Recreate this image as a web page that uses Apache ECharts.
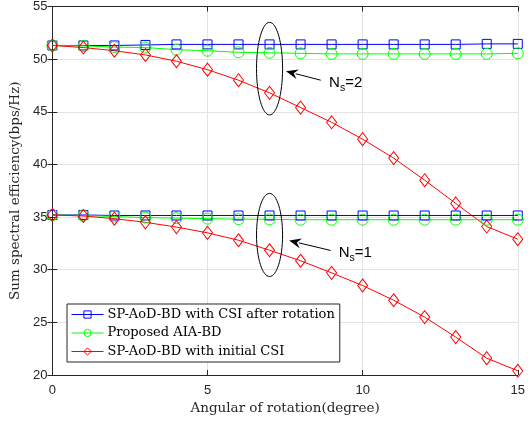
<!DOCTYPE html>
<html><head><meta charset="utf-8">
<script src="https://cdn.jsdelivr.net/npm/echarts@6/dist/echarts.min.js"></script>
<style>html,body{margin:0;padding:0;background:#fff}#c{width:528px;height:423px}</style>
</head><body><div id="c"></div>
<script>
const angles = [0,1,2,3,4,5,6,7,8,9,10,11,12,13,14,15];
const blueNs2  = [51.3,51.3,51.3,51.35,51.4,51.4,51.4,51.4,51.4,51.4,51.4,51.4,51.4,51.4,51.45,51.45];
const greenNs2 = [51.3,51.25,51.15,51.1,50.9,50.8,50.65,50.6,50.55,50.5,50.5,50.5,50.5,50.5,50.5,50.55];
const redNs2   = [51.3,51.1,50.8,50.4,49.8,49.0,48.0,46.8,45.4,44.0,42.4,40.6,38.5,36.3,34.1,32.9];
const blueNs1  = [35.2,35.2,35.15,35.15,35.15,35.15,35.15,35.15,35.15,35.15,35.15,35.15,35.15,35.15,35.15,35.15];
const greenNs1 = [35.2,35.15,35.05,34.95,34.9,34.85,34.8,34.78,34.75,34.75,34.75,34.75,34.75,34.75,34.75,34.75];
const redNs1   = [35.2,35.1,34.85,34.5,34.05,33.5,32.8,31.85,30.85,29.7,28.5,27.1,25.5,23.6,21.6,20.4];
const seriesNames = ['SP-AoD-BD with CSI after rotation','Proposed AIA-BD','SP-AoD-BD with initial CSI'];
const xTitle = 'Angular of rotation(degree)';
const yTitle = 'Sum spectral efficiency(bps/Hz)';

const AX = '#262626';
const serif = 'DejaVu Serif';
const sans = 'Liberation Sans';
function pairs(v){ return angles.map((a,i)=>[a,v[i]]); }
function mk(name, data, color, symbol, size){
  return {type:'line', name, data:pairs(data), symbol, symbolSize:size, showSymbol:true,
    lineStyle:{color, width:1}, itemStyle:{color:'rgba(255,255,255,0)', borderColor:color, borderWidth:1},
    emphasis:{disabled:true}, animation:false, z:3};
}
const BLUE='#0000ff', GREEN='#00ff00', RED='#ff0000';
const chart = echarts.init(document.getElementById('c'), null, {renderer:'canvas'});
const axisCommon = {
  axisLine:{show:true, lineStyle:{color:AX, width:1}},
  axisTick:{show:true, inside:true, length:5, lineStyle:{color:AX}},
};
chart.setOption({
  animation:false,
  grid:{left:52, right:8, top:5, bottom:48, containLabel:false},
  legend:{
    orient:'vertical', left:67, top:304, data:seriesNames,
    backgroundColor:'#fff', borderColor:AX, borderWidth:1, borderRadius:0,
    padding:[4,5,4,4], itemGap:5.5, itemWidth:32, itemHeight:9,
    lineStyle:{width:1}, itemStyle:{borderWidth:1},
    textStyle:{fontFamily:serif, fontSize:13, color:'#000', padding:[0,0,0,-1]}
  },
  xAxis:[
    Object.assign({type:'value', min:0, max:15, interval:5, position:'bottom',
      axisLabel:{color:AX, fontFamily:sans, fontSize:13, margin:9},
      splitLine:{show:true, lineStyle:{color:'#e3e3e3', width:1}},
      name:xTitle, nameLocation:'middle', nameGap:25,
      nameTextStyle:{fontFamily:serif, fontSize:13.5, color:AX}}, axisCommon),
    Object.assign({type:'value', min:0, max:15, interval:5, position:'top',
      axisLabel:{show:false}, splitLine:{show:false}}, axisCommon)
  ],
  yAxis:[
    Object.assign({type:'value', min:20, max:55, interval:5, position:'left',
      axisLabel:{color:AX, fontFamily:sans, fontSize:13, margin:5},
      splitLine:{show:true, lineStyle:{color:'#e3e3e3', width:1}},
      name:yTitle, nameLocation:'middle', nameGap:30, nameRotate:90,
      nameTextStyle:{fontFamily:serif, fontSize:13.5, color:AX}}, axisCommon),
    Object.assign({type:'value', min:20, max:55, interval:5, position:'right',
      axisLabel:{show:false}, splitLine:{show:false}}, axisCommon)
  ],
  series:[
    mk(seriesNames[0], blueNs2, BLUE, 'rect', 9),
    mk(seriesNames[1], greenNs2, GREEN, 'circle', 11),
    mk(seriesNames[2], redNs2, RED, 'diamond', [10,13]),
    mk(seriesNames[0], blueNs1, BLUE, 'rect', 9),
    mk(seriesNames[1], greenNs1, GREEN, 'circle', 11),
    mk(seriesNames[2], redNs1, RED, 'diamond', [10,13])
  ]
});

// annotations (data coordinates converted through the chart's scales)
const annotations = [
  {ellipse:{cx:7, cy:49.1, rx:0.42, ry:4.4}, tip:[7.53,48.85], tail:[8.65,48.0], label:[8.92,47.75], ns:'2'},
  {ellipse:{cx:7, cy:33.3, rx:0.42, ry:3.95}, tip:[7.63,32.77], tail:[8.97,31.83], label:[9.23,31.6], ns:'1'}
];
function px(p){ return chart.convertToPixel({xAxisIndex:0, yAxisIndex:0}, p); }
const g = [];
annotations.forEach(a=>{
  const c = px([a.ellipse.cx, a.ellipse.cy]);
  const e1 = px([a.ellipse.cx + a.ellipse.rx, a.ellipse.cy + a.ellipse.ry]);
  g.push({type:'ellipse', shape:{cx:c[0], cy:c[1], rx:Math.abs(e1[0]-c[0]), ry:Math.abs(e1[1]-c[1])},
    style:{fill:'none', stroke:'#000', lineWidth:1}, z:10});
  const t = px(a.tip), s = px(a.tail);
  const dx = t[0]-s[0], dy = t[1]-s[1], L = Math.hypot(dx,dy), ux = dx/L, uy = dy/L;
  const hl = 12, hw = 5;
  const bx = t[0]-ux*hl, by = t[1]-uy*hl;
  g.push({type:'line', shape:{x1:s[0], y1:s[1], x2:bx+ux*2, y2:by+uy*2}, style:{stroke:'#000', lineWidth:1}, z:10});
  g.push({type:'polygon', shape:{points:[[t[0],t[1]],[bx-uy*hw,by+ux*hw],[bx+ux*4,by+uy*4],[bx+uy*hw,by-ux*hw]]},
    style:{fill:'#000'}, z:10});
  const lp = px(a.label);
  g.push({type:'text', x:lp[0], y:lp[1], style:{
    text:'{n|N}{s|s}{n|=' + a.ns + '}', verticalAlign:'middle', align:'left',
    rich:{n:{fontFamily:sans, fontSize:15, fill:'#000'}, s:{fontFamily:sans, fontSize:10.5, fill:'#000', padding:[10,0,0,0]}}
  }, z:10});
});
chart.setOption({graphic:g});
</script></body></html>
